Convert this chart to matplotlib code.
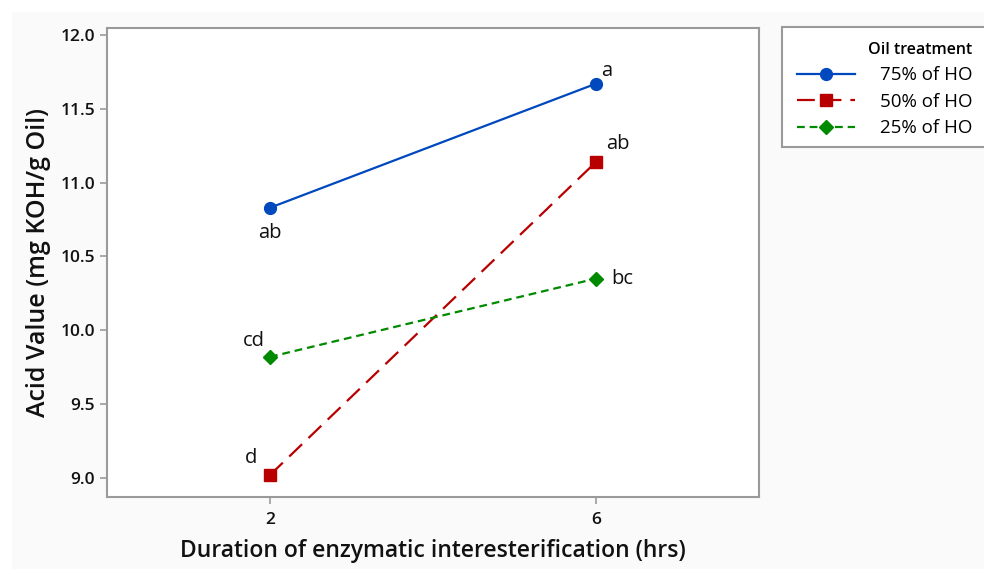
import matplotlib
matplotlib.use("Agg")
import matplotlib.pyplot as plt
from matplotlib.patches import Rectangle

# data
durations = [2, 6]
series_names = ["75% of HO", "50% of HO", "25% of HO"]
acid_75 = [10.83, 11.67]
acid_50 = [9.02, 11.14]
acid_25 = [9.82, 10.35]
letters_75 = ["ab", "a"]
letters_50 = ["d", "ab"]
letters_25 = ["cd", "bc"]

plt.rcParams.update({"font.family": ["Open Sans", "DejaVu Sans"]})

fig = plt.figure(figsize=(9.84, 5.69), dpi=100, facecolor="white")
# light grey panel behind the chart, white strip along top/left
fig.patches.append(Rectangle((12 / 984, 0), 1, 1 - 12 / 569, transform=fig.transFigure,
                             facecolor="#fafafa", edgecolor="none", zorder=-10))

ax = fig.add_axes([107 / 984, 72 / 569, 652 / 984, 469 / 569])
ax.set_facecolor("white")

styles = [
    dict(color="#0048bd", linestyle="-", marker="o", markersize=8.5),
    dict(color="#b80000", linestyle=(0, (8, 4)), marker="s", markersize=8),
    dict(color="#008a00", linestyle=(0, (3.5, 2.2)), marker="D", markersize=7.5),
]
values = [acid_75, acid_50, acid_25]
for name, vals, st in zip(series_names, values, styles):
    ax.plot(durations, vals, linewidth=1.6, label=name, **st)

# significance letters (offsets in pixels)
offsets = [[(0, -25), (11, 13)], [(-19, 17), (22, 18)], [(-16, 16), (26, 0)]]
letters = [letters_75, letters_50, letters_25]
for vals, labs, offs in zip(values, letters, offsets):
    for x, y, t, o in zip(durations, vals, labs, offs):
        ax.annotate(t, (x, y), xytext=o, textcoords="offset pixels",
                    ha="center", va="center", fontsize=14.5, color="#111111")

ax.set_xlim(0, 8)
ax.set_ylim(8.871, 12.047)
ax.set_xticks(durations)
ax.set_yticks([9.0, 9.5, 10.0, 10.5, 11.0, 11.5, 12.0])
ax.set_yticklabels([f"{v:.1f}" for v in ax.get_yticks()])

for s in ax.spines.values():
    s.set_color("#9a9a9a")
    s.set_linewidth(1.5)
ax.tick_params(colors="#9a9a9a", length=5, width=1.2, labelcolor="#111111",
               labelsize=12.5)
ax.tick_params(axis="x", pad=6)
for lab in ax.get_xticklabels() + ax.get_yticklabels():
    lab.set_fontweight("semibold")

ax.set_xlabel("Duration of enzymatic interesterification (hrs)", fontsize=16.5,
              fontweight="semibold", color="#111111", labelpad=8)
ax.set_ylabel("Acid Value (mg KOH/g Oil)", fontsize=18, fontweight="semibold",
              color="#111111", labelpad=7)

# legend frame (runs past the right edge as in the original)
fig.patches.append(Rectangle((782 / 984, 1 - 147 / 569), 0.25, 120 / 569,
                             transform=fig.transFigure, facecolor="white",
                             edgecolor="#9a9a9a", linewidth=1.5, zorder=1))
leg = fig.legend(loc="upper left", bbox_to_anchor=(782 / 984, 1 - 27 / 569),
                 frameon=False, title="Oil treatment", alignment="right",
                 fontsize=13.5, handlelength=3.1, handletextpad=1.3,
                 labelspacing=0.45, borderpad=0.3,
                 title_fontproperties={"size": 11.5, "weight": "semibold"})
leg.set_zorder(2)

fig.savefig("out.png", dpi=100, facecolor=fig.get_facecolor())
